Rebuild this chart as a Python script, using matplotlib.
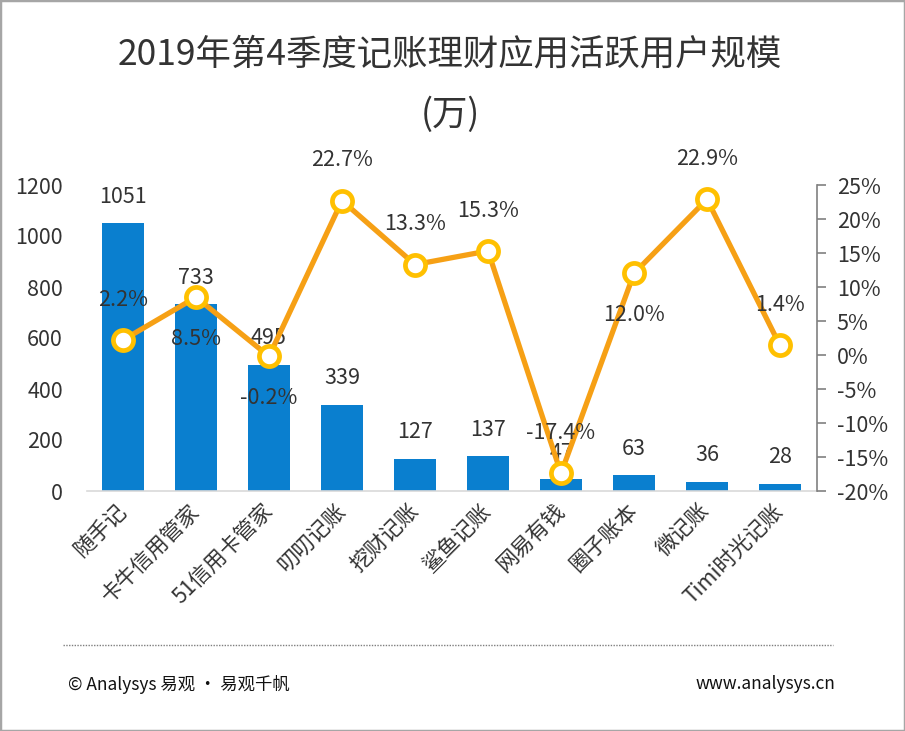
import matplotlib
matplotlib.use("Agg")
import matplotlib.pyplot as plt
from matplotlib.patches import Rectangle
from matplotlib.lines import Line2D
import matplotlib.ticker as mticker

plt.rcParams['font.family'] = ['Noto Sans CJK SC', 'DejaVu Sans']

categories = ["随手记", "卡牛信用管家", "51信用卡管家", "叨叨记账", "挖财记账",
              "鲨鱼记账", "网易有钱", "圈子账本", "微记账", "Timi时光记账"]
users = [1051, 733, 495, 339, 127, 137, 47, 63, 36, 28]
growth = [2.2, 8.5, -0.2, 22.7, 13.3, 15.3, -17.4, 12.0, 22.9, 1.4]
growth_label_above = [True, False, False, True, True, True, True, False, True, True]

left_ticks = [0, 200, 400, 600, 800, 1000, 1200]
right_ticks = [-20, -15, -10, -5, 0, 5, 10, 15, 20, 25]

title = "2019年第4季度记账理财应用活跃用户规模\n(万)"
footer_left = "© Analysys 易观 · 易观千帆"
footer_right = "www.analysys.cn"

W, H = 905, 731
fig = plt.figure(figsize=(W / 100, H / 100), dpi=100)
fig.patch.set_facecolor('white')

txt = '#333333'
bar_color = '#0A7FCF'
line_color = '#F6A015'
marker_edge = '#FFC000'
fs = 15.5

ax = fig.add_axes([86.5 / W, (H - 491) / H, 730 / W, 306 / H])
x = list(range(len(categories)))
ax.bar(x, users, width=0.57, color=bar_color, zorder=2)
ax.set_xlim(-0.5, len(categories) - 0.5)
ax.set_ylim(0, 1200)
ax.set_yticks(left_ticks)
ax.set_yticklabels([str(t) for t in left_ticks])
ax.tick_params(axis='y', length=0, pad=17, labelsize=fs, labelcolor=txt)
for s in ['left', 'top', 'right']:
    ax.spines[s].set_visible(False)
ax.spines['bottom'].set_color('#D9D9D9')
ax.spines['bottom'].set_linewidth(1.2)
ax.set_xticks(x)
ax.set_xticklabels(categories, rotation=45, ha='right', va='center',
                   rotation_mode='anchor', fontsize=fs, color=txt)
ax.tick_params(axis='x', length=0, pad=12)

for xi, v in zip(x, users):
    ax.annotate(str(v), (xi, v), xytext=(0, 19), textcoords='offset points',
                ha='center', va='center', fontsize=fs, color=txt, zorder=5)

ax2 = ax.twinx()
ax2.set_ylim(-20, 25)
ax2.plot(x, growth, color=line_color, lw=3.8, zorder=3,
         marker='o', markersize=14.5, markerfacecolor='white',
         markeredgecolor=marker_edge, markeredgewidth=3.4)
ax2.set_yticks(right_ticks)
ax2.yaxis.set_major_formatter(mticker.FuncFormatter(lambda v, p: f"{int(v)}%"))
ax2.tick_params(axis='y', length=6.5, width=1.2, color='#808080', pad=8,
                labelsize=fs, labelcolor=txt)
for s in ['left', 'top', 'bottom']:
    ax2.spines[s].set_visible(False)
ax2.spines['right'].set_color('#808080')
ax2.spines['right'].set_linewidth(1.2)

for xi, g, above in zip(x, growth, growth_label_above):
    off = 29 if above else -30
    ax2.annotate(f"{g:.1f}%", (xi, g), xytext=(0, off), textcoords='offset points',
                 ha='center', va='center', fontsize=fs, color=txt, zorder=6)

fig.text(450 / W, 1 - 85 / H, title, ha='center', va='center', fontsize=25.5,
         color=txt, linespacing=1.85)

fig.add_artist(Line2D([63 / W, 833 / W], [1 - 645 / H, 1 - 645 / H],
                      transform=fig.transFigure, color='#7F7F7F', lw=1.0,
                      linestyle=(0, (1, 1))))
fig.text(68 / W, 1 - 684 / H, footer_left, ha='left', va='center', fontsize=12.5,
         color='#111111')
fig.text(835 / W, 1 - 684 / H, footer_right, ha='right', va='center', fontsize=12.5,
         color='#111111')

fig.add_artist(Rectangle((0, 0), 1, 1, transform=fig.transFigure, fill=False,
                         edgecolor='#A6A6A6', lw=2.5))

fig.savefig('out.png', dpi=100, facecolor='white')
